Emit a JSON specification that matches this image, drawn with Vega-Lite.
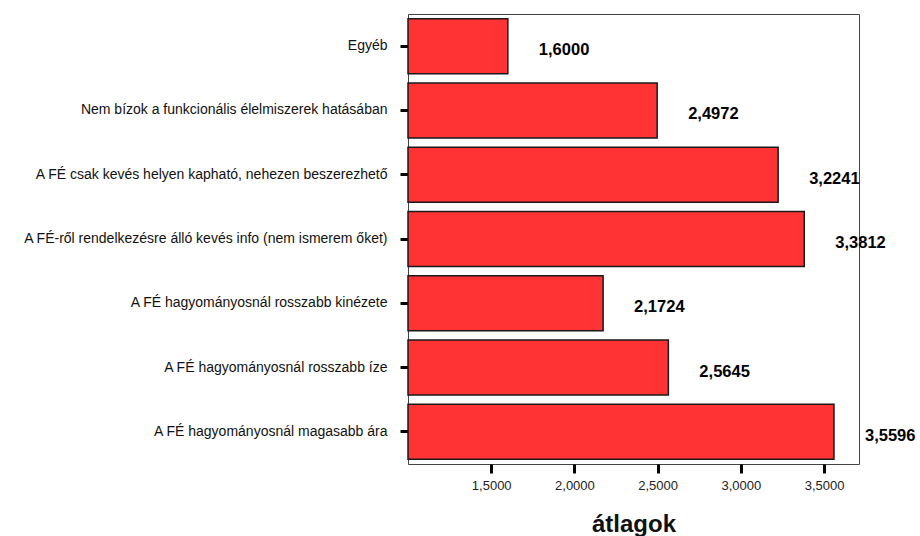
{
  "$schema": "https://vega.github.io/schema/vega-lite/v6.json",
  "autosize": "none",
  "width": 451,
  "height": 450,
  "padding": {"left": 408, "top": 14, "right": 61, "bottom": 72},
  "background": "white",
  "config": {
    "locale": {"number": {"decimal": ",", "thousands": " ", "grouping": [3], "currency": ["", ""]}},
    "font": "Liberation Sans",
    "view": {"stroke": "#444", "strokeWidth": 1}
  },
  "data": {
    "values": [
      {"ok": "Egyéb", "atlag": 1.6},
      {"ok": "Nem bízok a funkcionális élelmiszerek hatásában", "atlag": 2.4972},
      {"ok": "A FÉ csak kevés helyen kapható, nehezen beszerezhető", "atlag": 3.2241},
      {"ok": "A FÉ-ről rendelkezésre álló kevés info (nem ismerem őket)", "atlag": 3.3812},
      {"ok": "A FÉ hagyományosnál rosszabb kinézete", "atlag": 2.1724},
      {"ok": "A FÉ hagyományosnál rosszabb íze", "atlag": 2.5645},
      {"ok": "A FÉ hagyományosnál magasabb ára", "atlag": 3.5596}
    ]
  },
  "encoding": {
    "y": {
      "field": "ok", "type": "nominal", "sort": null,
      "scale": {"paddingInner": 0.145, "paddingOuter": 0.074},
      "axis": {
        "title": null, "domain": false, "ticks": true, "tickSize": 8, "tickWidth": 3, "tickColor": "black",
        "labelFont": "Liberation Sans", "labelFontSize": 14, "labelColor": "#111", "labelPadding": 13, "labelLimit": 500
      }
    },
    "x": {
      "field": "atlag", "type": "quantitative",
      "scale": {"domain": [1.0, 3.71], "zero": false, "nice": false},
      "axis": {
        "title": "átlagok", "titleFont": "Liberation Sans", "titleFontSize": 24, "titleFontWeight": "bold", "titleColor": "#111", "titlePadding": 20,
        "values": [1.5, 2.0, 2.5, 3.0, 3.5], "format": ".4f", "grid": false, "domain": false,
        "tickSize": 9, "tickWidth": 3, "tickColor": "black",
        "labelFont": "Liberation Sans", "labelFontSize": 13, "labelColor": "#222", "labelPadding": 6
      }
    }
  },
  "layer": [
    {
      "mark": {"type": "bar", "fill": "#ff3333", "stroke": "#1a1a1a", "strokeWidth": 1.5},
      "encoding": {"x2": {"datum": 1.0}}
    },
    {
      "mark": {"type": "text", "align": "left", "baseline": "middle", "dx": 31, "dy": 4, "fontWeight": "bold", "fontSize": 16.5, "color": "black", "font": "Liberation Sans"},
      "encoding": {"text": {"field": "atlag", "type": "quantitative", "format": ".4f"}}
    }
  ]
}
